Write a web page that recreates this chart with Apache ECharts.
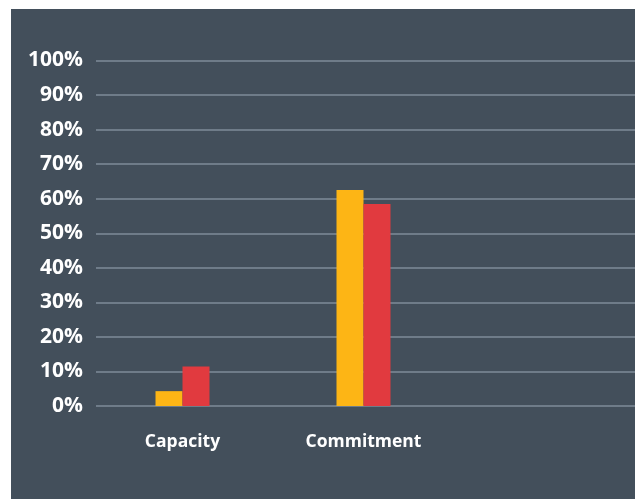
<!DOCTYPE html>
<html>
<head>
<meta charset="utf-8">
<script src="https://cdn.jsdelivr.net/npm/echarts@6/dist/echarts.min.js"></script>
<style>
  html, body { margin: 0; padding: 0; background: #ffffff; }
  #chart { position: absolute; left: 11px; top: 9px; width: 624px; height: 490px; }
</style>
</head>
<body>
<div id="chart"></div>
<script>
// Categories along the horizontal axis (third slot left empty)
const categories = ['Capacity', 'Commitment', ''];
// Two series of percentages per category
const seriesA = [4.3, 62.5, null];
const seriesB = [11.4, 58.5, null];
// Vertical axis range in percent
const yMin = 0;
const yMax = 100;
const yStep = 10;

const bg = '#434f5b';
const gridColor = '#6f7c89';
const font = '"Open Sans", "Noto Sans", sans-serif';

const chart = echarts.init(document.getElementById('chart'), null, { renderer: 'canvas' });

chart.setOption({
  backgroundColor: bg,
  animation: false,
  grid: [
    // grid carrying the horizontal gridlines and percent labels
    { left: 85, top: 51.5, width: 539, height: 345.5, containLabel: false },
    // grid carrying the bars
    { left: 81, top: 51.5, width: 549, height: 345.5, containLabel: false }
  ],
  xAxis: [
    { gridIndex: 0, type: 'category', data: categories, show: false },
    {
      gridIndex: 1,
      type: 'category',
      data: categories,
      axisLine: { show: false },
      axisTick: { show: false },
      axisLabel: {
        color: '#ffffff',
        fontFamily: font,
        fontWeight: 'bold',
        fontSize: 17.5,
        margin: 27
      }
    }
  ],
  yAxis: [
    {
      gridIndex: 0,
      type: 'value',
      min: yMin,
      max: yMax,
      interval: yStep,
      axisLine: { show: false },
      axisTick: { show: false },
      splitLine: { show: true, lineStyle: { color: gridColor, width: 2 } },
      axisLabel: {
        color: '#ffffff',
        fontFamily: font,
        fontWeight: 'bold',
        fontSize: 21,
        margin: 13,
        formatter: '{value}%'
      }
    },
    {
      gridIndex: 1,
      type: 'value',
      min: yMin,
      max: yMax,
      interval: yStep,
      show: false,
      splitLine: { show: false }
    }
  ],
  series: [
    {
      type: 'bar',
      xAxisIndex: 1,
      yAxisIndex: 1,
      data: seriesA,
      barWidth: 27,
      barGap: '0%',
      itemStyle: { color: '#fdb515' }
    },
    {
      type: 'bar',
      xAxisIndex: 1,
      yAxisIndex: 1,
      data: seriesB,
      barWidth: 27,
      barGap: '0%',
      itemStyle: { color: '#e13a3f' }
    }
  ]
});
</script>
</body>
</html>
